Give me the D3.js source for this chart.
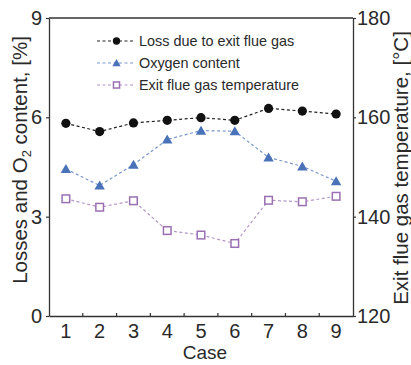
<!DOCTYPE html>
<html><head><meta charset="utf-8">
<script src="https://cdn.jsdelivr.net/npm/d3@7"></script>
<style>body{margin:0;background:#fff}svg{display:block}text{font-family:"Liberation Sans",Arial,sans-serif}</style>
</head><body><svg id="c" width="411" height="365"></svg>
<script>
const cases = ["1","2","3","4","5","6","7","8","9"];
const lossValues = [5.82,5.57,5.83,5.91,5.99,5.91,6.27,6.19,6.10];
const oxygenValues = [4.44,3.94,4.57,5.33,5.60,5.58,4.79,4.52,4.07];
const tempValues = [143.6,141.9,143.2,137.2,136.3,134.6,143.3,143.0,144.1];
const leftTicks = [0,3,6,9];
const rightTicks = [120,140,160,180];
const legendLabels = ["Loss due to exit flue gas","Oxygen content","Exit flue gas temperature"];

const svg = d3.select("#c");
const L = 49, R = 353, T = 18, B = 316;
const x = d3.scaleBand().domain(cases).range([L, R]).padding(0);
const yL = d3.scaleLinear().domain([0,9]).range([B, T]);
const yR = d3.scaleLinear().domain([120,180]).range([B, T]);
const axisColor = "#333";
const textColor = "#2a2a2a";
const font = "Liberation Sans, Arial, sans-serif";

// frame
svg.append("line").attr("x1",L).attr("x2",R).attr("y1",T).attr("y2",T).attr("stroke",axisColor).attr("stroke-width",1.3);

// left axis
const gL = svg.append("g").attr("transform",`translate(${L},0)`)
  .call(d3.axisLeft(yL).tickValues(leftTicks).tickSize(3).tickSizeOuter(0).tickPadding(4));
// right axis
const gR = svg.append("g").attr("transform",`translate(${R},0)`)
  .call(d3.axisRight(yR).tickValues(rightTicks).tickSize(3).tickSizeOuter(0).tickPadding(1));
// bottom axis (labels only)
const gB = svg.append("g").attr("transform",`translate(0,${B})`)
  .call(d3.axisBottom(x).tickSize(0).tickSizeOuter(0).tickPadding(8));
[gL,gR,gB].forEach(g=>{
  g.select(".domain").attr("stroke",axisColor).attr("stroke-width",1.3);
  g.selectAll(".tick line").attr("stroke",axisColor).attr("stroke-width",1.2);
  g.selectAll(".tick text").attr("font-size",20).attr("font-family",font).attr("fill",textColor);
});
gB.selectAll(".tick text").attr("dy","0.72em");
// inward ticks at band boundaries
svg.append("g").selectAll("line").data(cases.slice(1)).join("line")
  .attr("x1",d=>x(d)).attr("x2",d=>x(d)).attr("y1",B).attr("y2",B-3)
  .attr("stroke",axisColor).attr("stroke-width",1.2);

// axis titles
const lt = svg.append("text").attr("transform","translate(27,160) rotate(-90)")
  .attr("text-anchor","middle").attr("font-size",20.5).attr("fill",textColor);
lt.append("tspan").text("Losses and O");
lt.append("tspan").attr("font-size",13).attr("dy",4).text("2");
lt.append("tspan").attr("dy",-4).text(" content, [%]");
svg.append("text").attr("transform","translate(408,168) rotate(-90)")
  .attr("text-anchor","middle").attr("font-size",20.5).attr("fill",textColor)
  .text("Exit flue gas temperature, [°C]");
svg.append("text").attr("x",205).attr("y",359).attr("text-anchor","middle")
  .attr("font-size",19).attr("fill",textColor).text("Case");

const cx = d => x(d) + x.bandwidth()/2;
const series = [
  {vals: lossValues, y: yL, line:"#222", marker:"circle", fill:"#111", stroke:"#111"},
  {vals: oxygenValues, y: yL, line:"#7b96cc", marker:"tri", fill:"#4a72b8", stroke:"#4a72b8"},
  {vals: tempValues, y: yR, line:"#b496c8", marker:"sq", fill:"#fff", stroke:"#9a70b2"}
];
function drawMarker(g, type, s, px, py, scale){
  if(type==="circle") g.append("circle").attr("cx",px).attr("cy",py).attr("r",4.6*scale).attr("fill",s.fill);
  else if(type==="tri"){
    const w=5.2*scale, h=9*scale;
    g.append("path").attr("d",`M${px},${py-h*0.55}L${px+w},${py+h*0.45}L${px-w},${py+h*0.45}Z`).attr("fill",s.fill);
  } else {
    const a=3.8*scale;
    g.append("rect").attr("x",px-a).attr("y",py-a).attr("width",2*a).attr("height",2*a)
      .attr("fill","#fff").attr("stroke",s.stroke).attr("stroke-width",1.5);
  }
}
series.forEach(s=>{
  const pts = cases.map((c,i)=>[cx(c), s.y(s.vals[i])]);
  svg.append("path").attr("d",d3.line()(pts)).attr("fill","none")
    .attr("stroke",s.line).attr("stroke-width",1.2).attr("stroke-dasharray","3,2.5");
  const g = svg.append("g");
  pts.forEach(p=>drawMarker(g, s.marker, s, p[0], p[1], 1));
});

// legend
const legY = [41,63,85];
series.forEach((s,i)=>{
  const g = svg.append("g");
  g.append("line").attr("x1",97).attr("x2",134).attr("y1",legY[i]).attr("y2",legY[i])
    .attr("stroke",s.line).attr("stroke-width",1.2).attr("stroke-dasharray","3,2.5");
  drawMarker(g, s.marker, s, 116.5, legY[i], 0.8);
  g.append("text").attr("x",139).attr("y",legY[i]).attr("dy","0.35em")
    .attr("font-size",14.4).attr("fill",textColor).text(legendLabels[i]);
});
</script></body></html>
